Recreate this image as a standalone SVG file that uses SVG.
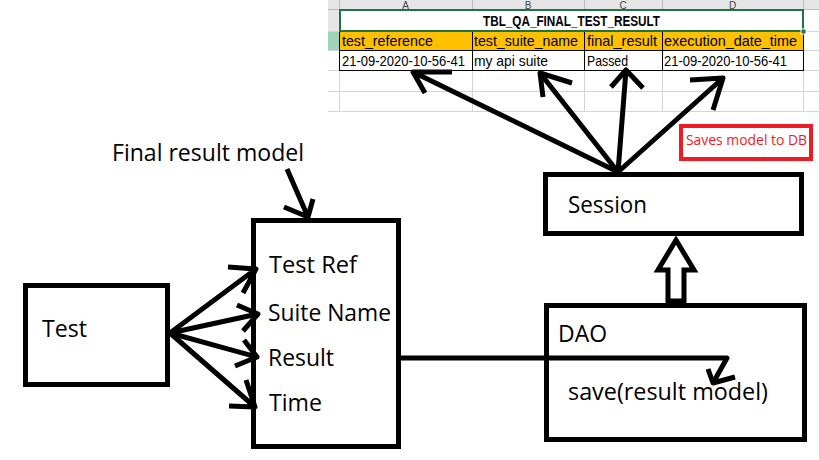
<svg xmlns="http://www.w3.org/2000/svg" width="819" height="460" viewBox="0 0 819 460">
  <defs>
    <style>
      .grid { stroke: #d4d4d4; stroke-width: 1; fill: none; }
      .hdrsep { stroke: #bdbdbd; stroke-width: 1; fill: none; }
      .cell { stroke: #000; stroke-width: 1; }
      .xl { font-family: "Liberation Sans", Arial, sans-serif; font-size: 14.5px; fill: #000; }
      .colL { font-family: "Liberation Sans", Arial, sans-serif; font-size: 10px; fill: #444; text-anchor: middle; }
      .box { fill: #fff; stroke: #000; stroke-width: 5; }
      .lbl { font-family: "Open Sans", "Noto Sans", sans-serif; font-size: 23px; fill: #000; }
      .ln { stroke: #000; stroke-width: 5; fill: none; stroke-linecap: butt; stroke-linejoin: round; }
    </style>
  </defs>
  <rect width="819" height="460" fill="#fff"/>

  <!-- Spreadsheet -->
  <g id="spreadsheet">
    <rect x="328" y="0" width="491" height="9" fill="#e6e6e6"/>
    <rect x="328" y="9" width="11" height="22" fill="#e6e6e6"/>
    <rect x="328" y="31" width="11" height="19" fill="#9fd5b7"/>
    <text class="colL" x="405.5" y="8.5">A</text>
    <text class="colL" x="528" y="8.5">B</text>
    <text class="colL" x="623" y="8.5">C</text>
    <text class="colL" x="732.5" y="8.5">D</text>
    <path class="hdrsep" d="M339.5 0V9M472.5 0V9M584.5 0V9M662.5 0V9M803.5 0V9M328 9.5H819"/>
    <path class="grid" d="M328 31.5H339M328 50.5H339M328 70.5H819M328 91.5H819M328 111.5H819M803 31.5H819M803 50.5H819M339.5 9V112M472.5 70V112M584.5 70V112M662.5 70V112M803.5 9V112"/>
    <rect x="339" y="31" width="464" height="19" fill="#ffc000"/>
    <path class="cell" d="M339 31.5H803M339 50.5H803M339 70.5H803M339.5 31V71M472.5 31V71M584.5 31V71M662.5 31V71M803.5 31V71"/>
    <rect x="340" y="10" width="463" height="21" fill="#fff" stroke="#217346" stroke-width="2"/>
    <rect x="801" y="29" width="5" height="5" fill="#217346" stroke="#fff" stroke-width="1"/>
    <text class="xl" x="483" y="26" font-weight="bold" font-size="14" textLength="177" lengthAdjust="spacingAndGlyphs">TBL_QA_FINAL_TEST_RESULT</text>
    <text class="xl" x="342" y="46" textLength="91" lengthAdjust="spacingAndGlyphs">test_reference</text>
    <text class="xl" x="474" y="46" textLength="104" lengthAdjust="spacingAndGlyphs">test_suite_name</text>
    <text class="xl" x="587" y="46" textLength="70" lengthAdjust="spacingAndGlyphs">final_result</text>
    <text class="xl" x="664" y="46" textLength="133" lengthAdjust="spacingAndGlyphs">execution_date_time</text>
    <text class="xl" x="342" y="66" textLength="123" lengthAdjust="spacingAndGlyphs">21-09-2020-10-56-41</text>
    <text class="xl" x="474" y="66" textLength="74" lengthAdjust="spacingAndGlyphs">my api suite</text>
    <text class="xl" x="587" y="66" textLength="41" lengthAdjust="spacingAndGlyphs">Passed</text>
    <text class="xl" x="664" y="66" textLength="123" lengthAdjust="spacingAndGlyphs">21-09-2020-10-56-41</text>
  </g>

  <!-- Nodes -->
  <g id="final-result-label">
    <text class="lbl" x="112" y="161" textLength="192" lengthAdjust="spacingAndGlyphs">Final result model</text>
  </g>
  <g id="test">
    <rect class="box" x="25.5" y="285.5" width="142" height="99"/>
    <text class="lbl" x="42" y="337" textLength="45" lengthAdjust="spacingAndGlyphs">Test</text>
  </g>
  <g id="model">
    <rect class="box" x="253.5" y="220.5" width="145" height="226"/>
    <text class="lbl" x="269" y="273" textLength="88" lengthAdjust="spacingAndGlyphs">Test Ref</text>
    <text class="lbl" x="268" y="321" textLength="123" lengthAdjust="spacingAndGlyphs">Suite Name</text>
    <text class="lbl" x="268" y="366" textLength="66" lengthAdjust="spacingAndGlyphs">Result</text>
    <text class="lbl" x="269" y="411" textLength="53" lengthAdjust="spacingAndGlyphs">Time</text>
  </g>
  <g id="session">
    <rect class="box" x="545.5" y="174.5" width="256" height="59"/>
    <text class="lbl" x="568" y="213" textLength="79" lengthAdjust="spacingAndGlyphs">Session</text>
  </g>
  <g id="dao">
    <rect class="box" x="546.5" y="305.5" width="258" height="134"/>
    <text class="lbl" x="558" y="342" textLength="49" lengthAdjust="spacingAndGlyphs">DAO</text>
    <text class="lbl" x="568" y="400" textLength="200" lengthAdjust="spacingAndGlyphs">save(result model)</text>
  </g>
  <g id="saves-note">
    <rect x="681" y="126" width="130" height="33" fill="#fff" stroke="#ed1c24" stroke-width="4"/>
    <text x="686" y="145" font-family="Open Sans, Noto Sans, sans-serif" font-size="14" fill="#ed1c24" textLength="121" lengthAdjust="spacingAndGlyphs">Saves model to DB</text>
  </g>

  <!-- Connectors -->
  <g id="connectors">
    <path class="ln" d="M287 169L308 217M284 207L308 217L313 199"/>
    <path class="ln" d="M170 333L256 269M228 267L256 269L243 293"/>
    <path class="ln" d="M170 333L258 314M237 305L258 314L243 331"/>
    <path class="ln" d="M170 333L257 357M244 340L257 357L235 366"/>
    <path class="ln" d="M170 333L255 407M246 380L255 407L229 406"/>
    <path class="ln" stroke-width="4.5" d="M401 358H727L713 383M708 369L713 383L735 377"/>
    <path class="ln" d="M618 172L413 72M452 72L413 72L425 93"/>
    <path class="ln" d="M618 172L540 73M572 83L540 73L543 97"/>
    <path class="ln" d="M618 172L626 70M611 87L626 70L643 88"/>
    <path class="ln" d="M618 172L723 78M690 80L723 78L713 110"/>
    <path d="M676 240L694 270H684V301H668V270H658Z" fill="#fff" stroke="#000" stroke-width="5" stroke-linejoin="miter"/>
  </g>
</svg>
